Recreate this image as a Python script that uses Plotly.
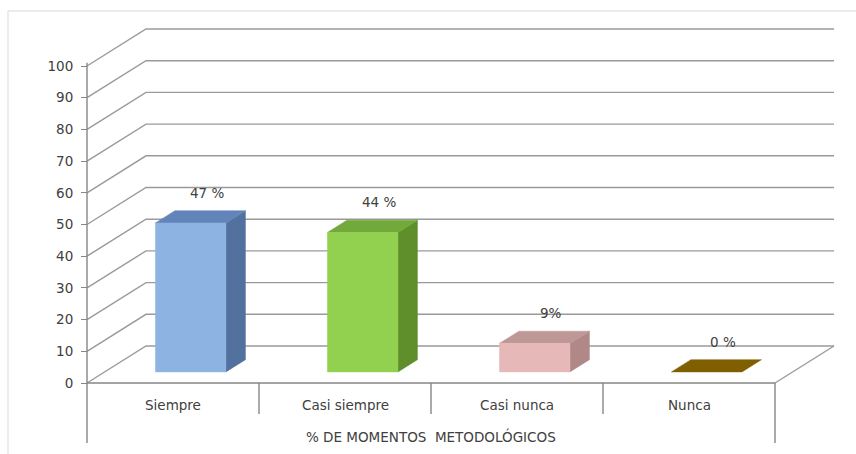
import plotly.graph_objects as go

# ---- data -------------------------------------------------------------
categories = ["Siempre", "Casi siempre", "Casi nunca", "Nunca"]
values = [47, 44, 9, 0]
value_labels = ["47 %", "44 %", "9%", "0 %"]
axis_title = "% DE MOMENTOS  METODOLÓGICOS"
y_ticks = [0, 10, 20, 30, 40, 50, 60, 70, 80, 90, 100]

# (front, side, top) colours for each bar
front_colors = ["#8DB3E2", "#92D050", "#E6B9B8", "#7F5F00"]
side_colors = ["#52719F", "#5E8F2B", "#B08887", "#6B4F00"]
top_colors = ["#6384B9", "#71A93B", "#BE9897", "#7F5F00"]

# ---- pseudo-3D geometry (in axis units) ------------------------------
DX = 0.343      # horizontal shift of the back wall, category units
DY = 11.67      # vertical shift of the back wall, value units
BAR_W = 0.41    # bar width, category units
D_FRONT = 0.30  # depth of the bar front face (0 = front, 1 = back wall)
D_BACK = 0.63   # depth of the bar back face
N = len(categories)

TEXT = "#404040"
GRID = "#9A9A9A"
AXIS = "#868686"
FONT = "DejaVu Sans"
FS = 13.5

fig = go.Figure()


def line(xs, ys, color=GRID, width=1.4):
    fig.add_trace(go.Scatter(x=xs, y=ys, mode="lines",
                             line=dict(color=color, width=width),
                             hoverinfo="skip", showlegend=False))


def poly(xs, ys, color):
    fig.add_trace(go.Scatter(x=xs + [xs[0]], y=ys + [ys[0]], mode="lines",
                             fill="toself", fillcolor=color,
                             line=dict(color=color, width=0.5),
                             hoverinfo="skip", showlegend=False))


# back wall gridlines, seen in perspective
for v in y_ticks:
    line([0, DX, N + DX], [v, v + DY, v + DY])

# floor front and right edges
line([0, N], [0, 0], AXIS)
line([N, N + DX], [0, DY])

# vertical axis line and category separators
line([0, 0], [-18.9, 101], AXIS)
line([N, N], [-18.9, 0], AXIS)
for k in range(1, N):
    line([k, k], [-9.8, 0], AXIS)

# bars: side, top and front faces
for i, v in enumerate(values):
    c = i + 0.5
    xl, xr = c - BAR_W / 2, c + BAR_W / 2
    fx, fy = D_FRONT * DX, D_FRONT * DY
    bx, by = D_BACK * DX, D_BACK * DY
    if v > 0:
        poly([xr + fx, xr + bx, xr + bx, xr + fx],
             [fy, by, v + by, v + fy], side_colors[i])
    poly([xl + fx, xr + fx, xr + bx, xl + bx],
         [v + fy, v + fy, v + by, v + by], top_colors[i])
    if v > 0:
        poly([xl + fx, xr + fx, xr + fx, xl + fx],
             [fy, fy, v + fy, v + fy], front_colors[i])

annotations = []
for i, (v, lab) in enumerate(zip(values, value_labels)):
    annotations.append(dict(x=i + 0.5 + 0.2, y=v + 13, text=lab,
                            showarrow=False, xanchor="center", yanchor="middle",
                            font=dict(family=FONT, size=FS, color=TEXT)))
for i, cat in enumerate(categories):
    annotations.append(dict(x=i + 0.5, y=-7, text=cat, showarrow=False,
                            xanchor="center", yanchor="middle",
                            font=dict(family=FONT, size=FS, color=TEXT)))
annotations.append(dict(x=N / 2, y=-17, text=axis_title, showarrow=False,
                        xanchor="center", yanchor="middle",
                        font=dict(family=FONT, size=FS, color=TEXT)))

W, H = 856, 454
PX_X = 172.0   # pixels per category
PX_Y = 3.17    # pixels per value unit
X0, Y0 = 87, 383  # pixel position of the origin

fig.update_layout(
    width=W, height=H,
    margin=dict(l=0, r=0, t=0, b=0),
    paper_bgcolor="white", plot_bgcolor="white",
    showlegend=False,
    annotations=annotations,
    xaxis=dict(range=[-X0 / PX_X, (W - X0) / PX_X], visible=False,
               fixedrange=True),
    yaxis=dict(range=[-(H - Y0) / PX_Y, Y0 / PX_Y], anchor="free",
               position=X0 / W, tickmode="array", tickvals=y_ticks,
               ticks="outside", ticklen=6, tickcolor=AXIS, tickwidth=1,
               ticklabelstandoff=5,
               showgrid=False, zeroline=False, showline=False,
               tickfont=dict(family=FONT, size=FS, color=TEXT),
               fixedrange=True),
    shapes=[dict(type="rect", xref="paper", yref="paper",
                 x0=8 / W, x1=1.05, y0=-0.05, y1=1 - 11 / H,
                 line=dict(color="#D9D9D9", width=1))],
)

fig.write_html("out.html")
